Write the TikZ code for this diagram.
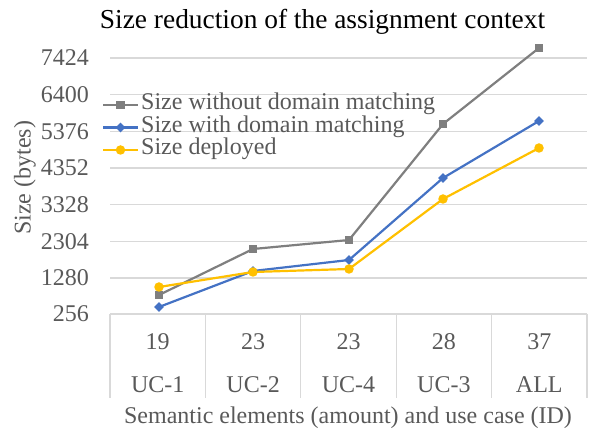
\documentclass[tikz,border=0pt]{standalone}
\usepackage{fontspec}
\setmainfont{Liberation Serif}
\usetikzlibrary{shapes.geometric}
\definecolor{gridc}{HTML}{D9D9D9}
\definecolor{txtc}{HTML}{595959}
\definecolor{grayc}{HTML}{7F7F7F}
\definecolor{bluec}{HTML}{4472C4}
\definecolor{yelc}{HTML}{FFC000}
\begin{document}
\begin{tikzpicture}[x=1pt,y=-1pt,
  lbl/.style={font=\fontsize{24}{24}\selectfont, text=txtc, inner sep=0pt},
  ticklbl/.style={lbl, anchor=east},
  gridline/.style={draw=gridc, line width=1.2pt},
  sgray/.style={draw=grayc, line width=2.2pt, line join=round},
  sblue/.style={draw=bluec, line width=2.2pt, line join=round},
  syel/.style={draw=yelc, line width=2.2pt, line join=round},
  mgray/.style={rectangle, fill=grayc, minimum size=8.5pt, inner sep=0pt},
  mblue/.style={diamond, fill=bluec, minimum size=10pt, inner sep=0pt},
  myel/.style={circle, fill=yelc, minimum size=9.5pt, inner sep=0pt}]
\useasboundingbox (0,0) rectangle (592,430);
% title
\node[font=\fontsize{27.4}{27.4}\selectfont, anchor=base, inner sep=0pt] (title) at (322.5,29) {Size reduction of the assignment context};
% y axis label
\node[lbl, rotate=90] (ylabel) at (25,178) {Size (bytes)};
% gridlines and tick labels
\foreach \v/\y in {7424/58, 6400/94.7, 5376/131.3, 4352/168, 3328/204.7, 2304/241.3, 1280/278}{
  \coordinate (gl\v) at (110,\y);
  \coordinate (gr\v) at (587,\y);
  \draw[gridline] (gl\v) -- (gr\v);
  \node[ticklbl] (t\v) at (89,\y) {\v};
}
\node[ticklbl] (t256) at (89,314) {256};
% category table
\coordinate (axl) at (110,314);
\coordinate (axr) at (587,314);
\draw[gridline] (axl) -- (axr);
\foreach \i/\x in {0/110, 1/205.4, 2/300.8, 3/396.2, 4/491.6, 5/587}{
  \coordinate (vt\i) at (\x,314);
  \coordinate (vb\i) at (\x,398);
  \draw[gridline] (vt\i) -- (vb\i);
}
\foreach \i/\x/\n/\c in {1/157.7/19/UC-1, 2/253.1/23/UC-2, 3/348.5/23/UC-4, 4/443.9/28/UC-3, 5/539.3/37/ALL}{
  \node[lbl, anchor=base] (n\i) at (\x,350) {\n};
  \node[lbl, anchor=base] (c\i) at (\x,392) {\c};
}
\node[lbl, anchor=base] (xlabel) at (348,423) {Semantic elements (amount) and use case (ID)};
% data
\coordinate (g1) at (159,295); \coordinate (g2) at (253,249); \coordinate (g3) at (349,240); \coordinate (g4) at (443,124); \coordinate (g5) at (539,48);
\coordinate (b1) at (159,307); \coordinate (b2) at (253,271); \coordinate (b3) at (349,260); \coordinate (b4) at (443,178); \coordinate (b5) at (539,121);
\coordinate (y1) at (159,287); \coordinate (y2) at (253,272); \coordinate (y3) at (349,269); \coordinate (y4) at (443,199); \coordinate (y5) at (539,148);
\draw[sgray] (g1) -- (g2) -- (g3) -- (g4) -- (g5);
\draw[sblue] (b1) -- (b2) -- (b3) -- (b4) -- (b5);
\draw[syel] (y1) -- (y2) -- (y3) -- (y4) -- (y5);
\foreach \i in {1,...,5}{
  \node[mgray] (mg\i) at (g\i) {};
  \node[mblue] (mb\i) at (b\i) {};
  \node[myel] (my\i) at (y\i) {};
}
% legend
\coordinate (lg1) at (103,105); \coordinate (lg2) at (138,105);
\coordinate (lb1) at (103,127.5); \coordinate (lb2) at (138,127.5);
\coordinate (ly1) at (103,150); \coordinate (ly2) at (138,150);
\draw[sgray] (lg1) -- (lg2);
\draw[sblue] (lb1) -- (lb2);
\draw[syel] (ly1) -- (ly2);
\node[mgray] (lmg) at (120.5,105) {};
\node[mblue] (lmb) at (120.5,127.5) {};
\node[myel] (lmy) at (120.5,150) {};
\node[lbl, anchor=west] (legg) at (141,104) {Size without domain matching};
\node[lbl, anchor=west] (legb) at (141,126.5) {Size with domain matching};
\node[lbl, anchor=west] (legy) at (141,149) {Size deployed};
\end{tikzpicture}
\end{document}
